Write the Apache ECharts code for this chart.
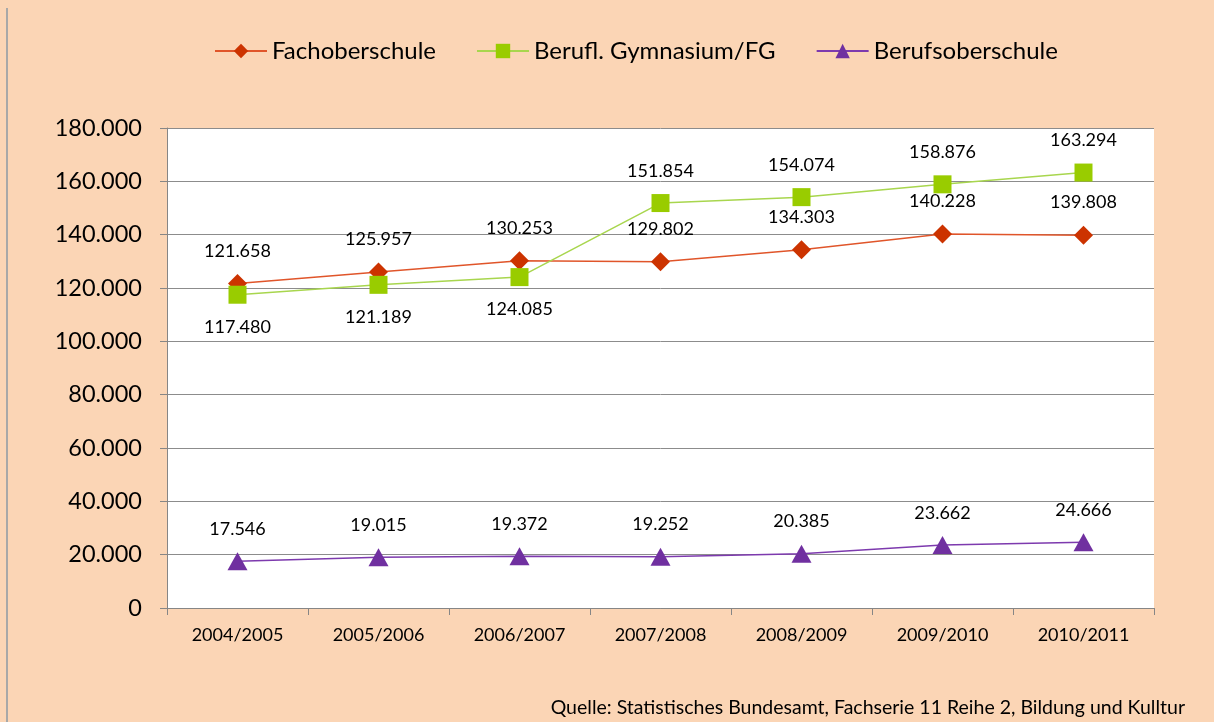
<!DOCTYPE html>
<html>
<head>
<meta charset="utf-8">
<script src="https://cdn.jsdelivr.net/npm/echarts@6/dist/echarts.min.js"></script>
<style>
html,body{margin:0;padding:0;background:#FBD5B5;}
#c{width:1214px;height:722px;}
</style>
</head>
<body>
<div id="c"></div>
<script>
const categories = ['2004/2005','2005/2006','2006/2007','2007/2008','2008/2009','2009/2010','2010/2011'];
const fachoberschule = [121658, 125957, 130253, 129802, 134303, 140228, 139808];
const gymnasium = [117480, 121189, 124085, 151854, 154074, 158876, 163294];
const berufsoberschule = [17546, 19015, 19372, 19252, 20385, 23662, 24666];
const gymnasiumLabelBelow = [true, true, true, false, false, false, false];

const FONT = 'Lato, "Open Sans", sans-serif';
function de(v){
  return String(Math.round(v)).replace(/\B(?=(\d{3})+(?!\d))/g, '.');
}
const labelBase = {show:true, position:'top', distance:14, color:'#000', fontSize:18, fontFamily:FONT, formatter:p=>de(p.value)};

const chart = echarts.init(document.getElementById('c'));
chart.setOption({
  backgroundColor:'#FBD5B5',
  animation:false,
  legend:{
    top:34, left:209,
    itemWidth:52, itemHeight:18, itemGap:40,
    textStyle:{fontSize:24, fontFamily:FONT, color:'#000'},
    data:['Fachoberschule','Berufl. Gymnasium/FG','Berufsoberschule']
  },
  grid:{left:167, right:60, top:128, bottom:114, show:true, backgroundColor:'#fff', borderWidth:0},
  xAxis:{
    type:'category', data:categories, boundaryGap:true,
    axisLine:{lineStyle:{color:'#868686', width:1}},
    axisTick:{show:true, length:7, lineStyle:{color:'#868686'}},
    axisLabel:{color:'#000', fontSize:18, fontFamily:FONT, margin:18}
  },
  yAxis:{
    type:'value', min:0, max:180000, interval:20000,
    axisLine:{show:true, lineStyle:{color:'#868686', width:1}},
    axisTick:{show:true, length:7, lineStyle:{color:'#868686'}},
    splitLine:{lineStyle:{color:'#8c8c8c', width:1}},
    axisLabel:{color:'#000', fontSize:23.5, fontFamily:FONT, margin:25, formatter:v=>de(v)}
  },
  series:[
    {
      name:'Fachoberschule', type:'line', data:fachoberschule, z:2,
      symbol:'diamond', symbolSize:[19,19],
      itemStyle:{color:'#CC3300'}, lineStyle:{color:'#E0552A', width:1.5},
      label:labelBase
    },
    {
      name:'Berufl. Gymnasium/FG', type:'line', z:3,
      data:gymnasium.map((v,i)=>({value:v, label:{position: gymnasiumLabelBelow[i] ? 'bottom' : 'top'}})),
      symbol:'rect', symbolSize:[18,18],
      itemStyle:{color:'#99CC00'}, lineStyle:{color:'#A8D64E', width:1.5},
      label:labelBase
    },
    {
      name:'Berufsoberschule', type:'line', data:berufsoberschule, z:2,
      symbol:'triangle', symbolSize:[20,18],
      itemStyle:{color:'#7030A0'}, lineStyle:{color:'#7D3AAE', width:1.5},
      label:labelBase
    }
  ],
  graphic:[
    {type:'line', shape:{x1:7, y1:8, x2:7, y2:722}, style:{stroke:'#a8a8a8', lineWidth:2}},
    {type:'text', right:29, top:698, style:{text:'Quelle: Statistisches Bundesamt, Fachserie 11 Reihe 2, Bildung und Kulltur', fontSize:19.5, fontFamily:FONT, fill:'#000'}}
  ]
});
</script>
</body>
</html>
